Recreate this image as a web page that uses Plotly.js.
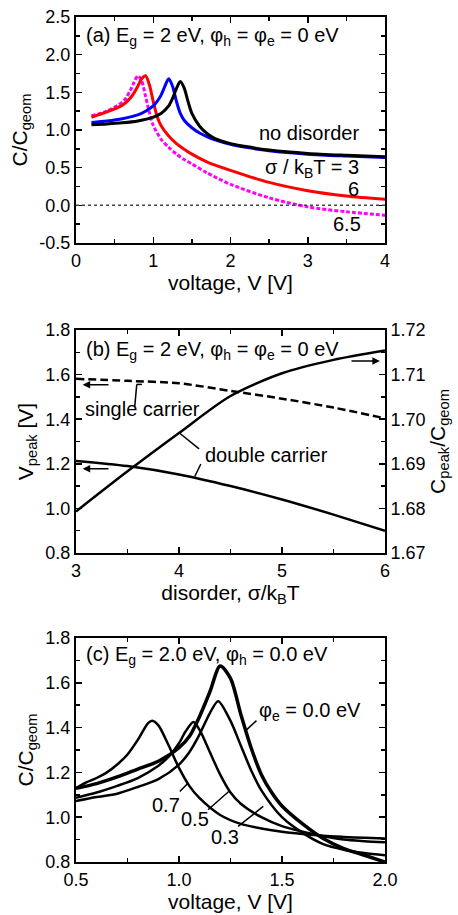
<!DOCTYPE html>
<html>
<head>
<meta charset="utf-8">
<script src="https://cdn.plot.ly/plotly-3.0.1.min.js"></script>
<style>html,body{margin:0;padding:0;background:#fff;}#chart{width:458px;height:915px;}</style>
</head>
<body>
<div id="chart"></div>
<script>
// ---------- Panel (a): C/Cgeom vs voltage ----------
const aNoDisX = [0.2, 0.4, 0.6, 0.8, 1.0, 1.1, 1.2, 1.25, 1.3, 1.35, 1.4, 1.45, 1.5, 1.6, 1.7, 1.8, 2.0, 2.2, 2.5, 3.0, 3.5, 4.0];
const aNoDisY = [1.07, 1.08, 1.095, 1.12, 1.17, 1.22, 1.32, 1.42, 1.55, 1.645, 1.56, 1.38, 1.22, 1.05, 0.95, 0.885, 0.82, 0.78, 0.735, 0.69, 0.665, 0.645];
const aS3X = [0.2, 0.4, 0.6, 0.8, 0.9, 1.0, 1.05, 1.1, 1.15, 1.2, 1.25, 1.3, 1.35, 1.4, 1.5, 1.6, 1.7, 1.8, 2.0, 2.2, 2.5, 3.0, 3.5, 4.0];
const aS3Y = [1.10, 1.12, 1.15, 1.2, 1.25, 1.32, 1.38, 1.46, 1.58, 1.68, 1.58, 1.38, 1.22, 1.13, 1.03, 0.96, 0.91, 0.87, 0.81, 0.77, 0.725, 0.68, 0.655, 0.635];
const aS6X = [0.2, 0.4, 0.6, 0.7, 0.75, 0.8, 0.85, 0.9, 0.95, 1.0, 1.05, 1.1, 1.2, 1.3, 1.4, 1.5, 1.7, 2.0, 2.5, 3.0, 3.5, 4.0];
const aS6Y = [1.17, 1.24, 1.33, 1.42, 1.49, 1.58, 1.68, 1.72, 1.60, 1.38, 1.18, 1.06, 0.92, 0.82, 0.745, 0.68, 0.575, 0.465, 0.305, 0.195, 0.125, 0.08];
const aS65X = [0.2, 0.4, 0.6, 0.65, 0.7, 0.75, 0.8, 0.85, 0.9, 0.95, 1.0, 1.1, 1.2, 1.3, 1.4, 1.5, 1.7, 2.0, 2.5, 3.0, 3.5, 4.0];
const aS65Y = [1.19, 1.25, 1.37, 1.43, 1.52, 1.63, 1.72, 1.65, 1.45, 1.23, 1.06, 0.88, 0.77, 0.68, 0.61, 0.55, 0.43, 0.28, 0.10, -0.02, -0.085, -0.13];
const aYTickVals = [-0.5, 0.0, 0.5, 1.0, 1.5, 2.0, 2.5];
const aYTickText = ["-0.5", "0.0", "0.5", "1.0", "1.5", "2.0", "2.5"];

// ---------- Panel (b): peak position / height vs disorder ----------
const bDisorder = [3.0, 3.5, 4.0, 4.5, 5.0, 5.5, 6.0];
const bVpeakDouble = [1.213, 1.190, 1.152, 1.100, 1.040, 0.972, 0.900];
const bVpeakSingle = [1.581, 1.572, 1.561, 1.527, 1.492, 1.452, 1.404];
const bCpeakDouble = [1.6793, 1.6883, 1.6969, 1.7052, 1.7103, 1.7133, 1.7154];

// ---------- Panel (c): C/Cgeom vs voltage for several phi_e ----------
const cPhi0X = [0.5, 0.6, 0.7, 0.8, 0.9, 1.0, 1.05, 1.1, 1.15, 1.2, 1.25, 1.3, 1.35, 1.4, 1.45, 1.5, 1.6, 1.7, 1.8, 1.9, 2.0];
const cPhi0Y = [1.129, 1.15, 1.18, 1.215, 1.25, 1.31, 1.36, 1.45, 1.56, 1.675, 1.62, 1.46, 1.31, 1.19, 1.11, 1.05, 0.97, 0.905, 0.86, 0.83, 0.80];
const cPhi3X = [0.5, 0.6, 0.7, 0.8, 0.9, 1.0, 1.05, 1.1, 1.15, 1.19, 1.25, 1.3, 1.35, 1.4, 1.5, 1.6, 1.7, 1.8, 1.9, 2.0];
const cPhi3Y = [1.072, 1.09, 1.105, 1.135, 1.17, 1.235, 1.29, 1.37, 1.465, 1.518, 1.43, 1.32, 1.21, 1.12, 1.00, 0.93, 0.88, 0.855, 0.84, 0.83];
const cPhi5X = [0.5, 0.6, 0.7, 0.8, 0.9, 0.95, 1.0, 1.03, 1.07, 1.1, 1.15, 1.2, 1.25, 1.3, 1.4, 1.5, 1.6, 1.7, 1.8, 1.9, 2.0];
const cPhi5Y = [1.087, 1.11, 1.14, 1.175, 1.23, 1.27, 1.33, 1.38, 1.425, 1.39, 1.29, 1.19, 1.11, 1.06, 1.00, 0.96, 0.935, 0.915, 0.90, 0.893, 0.888];
const cPhi7X = [0.5, 0.55, 0.6, 0.65, 0.7, 0.75, 0.8, 0.85, 0.87, 0.9, 0.95, 1.0, 1.05, 1.1, 1.2, 1.3, 1.4, 1.5, 1.6, 1.7, 1.8, 1.9, 2.0];
const cPhi7Y = [1.129, 1.155, 1.175, 1.20, 1.235, 1.28, 1.345, 1.42, 1.431, 1.41, 1.32, 1.22, 1.14, 1.085, 1.01, 0.97, 0.95, 0.935, 0.925, 0.917, 0.912, 0.908, 0.905];

const FONT = 'Liberation Sans, Arial, Helvetica, sans-serif';
const TXT = 20;

function line(x, y, xa, ya, color, width, dash) {
  return {x: x, y: y, xaxis: xa, yaxis: ya, type: 'scatter', mode: 'lines',
    line: {color: color, width: width, dash: dash || 'solid', shape: 'spline', smoothing: 0.8},
    hoverinfo: 'skip'};
}

const data = [
  line(aS65X, aS65Y, 'x', 'y', '#ff00ff', 3, '4px,2px'),
  line(aS6X, aS6Y, 'x', 'y', '#ff0000', 3),
  line(aS3X, aS3Y, 'x', 'y', '#0000ff', 3),
  line(aNoDisX, aNoDisY, 'x', 'y', '#000000', 3),
  line(bDisorder, bVpeakSingle, 'x2', 'y2', '#000000', 2.5, '8px,4px'),
  line(bDisorder, bVpeakDouble, 'x2', 'y2', '#000000', 2.5),
  line(bDisorder, bCpeakDouble, 'x2', 'y3', '#000000', 2.5),
  line(cPhi7X, cPhi7Y, 'x3', 'y4', '#000000', 2.5),
  line(cPhi5X, cPhi5Y, 'x3', 'y4', '#000000', 2.5),
  line(cPhi3X, cPhi3Y, 'x3', 'y4', '#000000', 2.5),
  line(cPhi0X, cPhi0Y, 'x3', 'y4', '#000000', 3.5)
];

function axis(extra) {
  return Object.assign({
    showline: true, linewidth: 2, linecolor: 'black', mirror: 'ticks',
    ticks: 'inside', ticklen: 6, tickwidth: 1.5, tickcolor: 'black',
    showgrid: false, zeroline: false, fixedrange: true,
    tickfont: {size: 18, family: FONT, color: 'black'}
  }, extra);
}
function minor(d) { return {dtick: d, ticks: 'inside', ticklen: 4, tickwidth: 1.5, tickcolor: 'black'}; }
function ttl(t, s) { return {text: t, font: {size: 21, family: FONT, color: 'black'}, standoff: s}; }

const layout = {
  width: 458, height: 915,
  margin: {l: 76, r: 73, t: 17, b: 53},
  paper_bgcolor: 'white', plot_bgcolor: 'white',
  showlegend: false,
  font: {family: FONT, size: 18, color: 'black'},
  xaxis: axis({domain: [0, 1], anchor: 'y', range: [0, 4], tick0: 0, dtick: 1, minor: minor(0.5), title: ttl('voltage, V [V]', 3)}),
  yaxis: axis({domain: [0.7325, 1], anchor: 'x', range: [-0.5, 2.5], tickmode: 'array', tickvals: aYTickVals, ticktext: aYTickText,
    minor: Object.assign(minor(0.25), {tickmode: 'linear', tick0: 0}), title: ttl('C/C<sub>geom</sub>', 6)}),
  xaxis2: axis({domain: [0, 1], anchor: 'y2', range: [3, 6], tick0: 3, dtick: 1, minor: minor(0.5), title: ttl('disorder, σ/k<sub>B</sub>T', 3)}),
  yaxis2: axis({domain: [0.3657, 0.6296], anchor: 'x2', range: [0.8, 1.8], tick0: 0.8, dtick: 0.2, tickformat: '.1f', mirror: false, minor: minor(0.1), title: ttl('V<sub>peak</sub> [V]', 6)}),
  yaxis3: axis({overlaying: 'y2', side: 'right', anchor: 'x2', range: [1.67, 1.72], tick0: 1.67, dtick: 0.01, tickformat: '.2f', mirror: false, minor: minor(0.005), title: ttl('C<sub>peak</sub>/C<sub>geom</sub>', 4)}),
  xaxis3: axis({domain: [0, 1], anchor: 'y4', range: [0.5, 2.0], tick0: 0.5, dtick: 0.5, tickformat: '.1f', minor: minor(0.25), title: ttl('voltage, V [V]', 3)}),
  yaxis4: axis({domain: [0, 0.2651], anchor: 'x3', range: [0.8, 1.8], tick0: 0.8, dtick: 0.2, tickformat: '.1f', minor: minor(0.1), title: ttl('C/C<sub>geom</sub>', 6)}),
  shapes: [
    {type: 'line', xref: 'x domain', yref: 'y', x0: 0, x1: 1, y0: 0, y1: 0, line: {color: '#444', width: 1.5, dash: 'dot'}},
    // panel (b) leader lines
    {type: 'line', xref: 'x2', yref: 'y2', x0: 3.57, y0: 1.455, x1: 3.59, y1: 1.556, line: {color: 'black', width: 1.5}},
    {type: 'line', xref: 'x2', yref: 'y2', x0: 3.59, y0: 1.556, x1: 3.64, y1: 1.556, line: {color: 'black', width: 1.5}},
    {type: 'line', xref: 'x2', yref: 'y2', x0: 4.195, y0: 1.267, x1: 4.007, y1: 1.337, line: {color: 'black', width: 1.5}},
    {type: 'line', xref: 'x2', yref: 'y2', x0: 4.212, y0: 1.199, x1: 4.153, y1: 1.143, line: {color: 'black', width: 1.5}},
    // panel (c) leader lines
    {type: 'line', xref: 'x3', yref: 'y4', x0: 1.320, y0: 1.383, x1: 1.376, y1: 1.431, line: {color: 'black', width: 1.5}},
    {type: 'line', xref: 'x3', yref: 'y4', x0: 1.004, y0: 1.115, x1: 1.044, y1: 1.152, line: {color: 'black', width: 1.5}},
    {type: 'line', xref: 'x3', yref: 'y4', x0: 1.141, y0: 1.033, x1: 1.247, y1: 1.119, line: {color: 'black', width: 1.5}},
    {type: 'line', xref: 'x3', yref: 'y4', x0: 1.287, y0: 0.959, x1: 1.409, y1: 1.048, line: {color: 'black', width: 1.5}}
  ],
  annotations: [
    {xref: 'x domain', yref: 'y domain', x: 0.025, y: 0.915, xanchor: 'left', yanchor: 'middle', showarrow: false,
      text: '(a) E<sub>g</sub> = 2 eV, φ<sub>h</sub> = φ<sub>e</sub> = 0 eV', font: {size: TXT}},
    {xref: 'x', yref: 'y', x: 3.69, y: 0.965, xanchor: 'right', yanchor: 'middle', showarrow: false, text: 'no disorder', font: {size: TXT}},
    {xref: 'x', yref: 'y', x: 3.69, y: 0.49, xanchor: 'right', yanchor: 'middle', showarrow: false, text: 'σ / k<sub>B</sub>T = 3', font: {size: TXT}},
    {xref: 'x', yref: 'y', x: 3.69, y: 0.222, xanchor: 'right', yanchor: 'middle', showarrow: false, text: '6', font: {size: TXT}},
    {xref: 'x', yref: 'y', x: 3.71, y: -0.243, xanchor: 'right', yanchor: 'middle', showarrow: false, text: '6.5', font: {size: TXT}},

    {xref: 'x2 domain', yref: 'y2 domain', x: 0.025, y: 0.91, xanchor: 'left', yanchor: 'middle', showarrow: false,
      text: '(b) E<sub>g</sub> = 2 eV, φ<sub>h</sub> = φ<sub>e</sub> = 0 eV', font: {size: TXT}},
    {xref: 'x2', yref: 'y2', x: 3.065, y: 1.446, xanchor: 'left', yanchor: 'middle', showarrow: false, text: 'single carrier', font: {size: TXT}},
    {xref: 'x2', yref: 'y2', x: 4.23, y: 1.24, xanchor: 'left', yanchor: 'middle', showarrow: false, text: 'double carrier', font: {size: TXT}},
    {xref: 'x2', yref: 'y2', axref: 'x2', ayref: 'y2', x: 3.065, y: 1.554, ax: 3.33, ay: 1.554, text: '', showarrow: true, arrowhead: 2, arrowsize: 1, arrowwidth: 1.5, arrowcolor: 'black'},
    {xref: 'x2', yref: 'y2', axref: 'x2', ayref: 'y2', x: 3.065, y: 1.178, ax: 3.33, ay: 1.178, text: '', showarrow: true, arrowhead: 2, arrowsize: 1, arrowwidth: 1.5, arrowcolor: 'black'},
    {xref: 'x2', yref: 'y2', axref: 'x2', ayref: 'y2', x: 5.95, y: 1.661, ax: 5.66, ay: 1.661, text: '', showarrow: true, arrowhead: 2, arrowsize: 1, arrowwidth: 1.5, arrowcolor: 'black'},

    {xref: 'x3 domain', yref: 'y4 domain', x: 0.025, y: 0.92, xanchor: 'left', yanchor: 'middle', showarrow: false,
      text: '(c) E<sub>g</sub> = 2.0 eV, φ<sub>h</sub> = 0.0 eV', font: {size: TXT}},
    {xref: 'x3', yref: 'y4', x: 1.38, y: 1.47, xanchor: 'left', yanchor: 'middle', showarrow: false, text: 'φ<sub>e</sub> = 0.0 eV', font: {size: TXT}},
    {xref: 'x3', yref: 'y4', x: 0.938, y: 1.055, xanchor: 'center', yanchor: 'middle', showarrow: false, text: '0.7', font: {size: TXT}},
    {xref: 'x3', yref: 'y4', x: 1.077, y: 0.993, xanchor: 'center', yanchor: 'middle', showarrow: false, text: '0.5', font: {size: TXT}},
    {xref: 'x3', yref: 'y4', x: 1.222, y: 0.911, xanchor: 'center', yanchor: 'middle', showarrow: false, text: '0.3', font: {size: TXT}}
  ]
};

Plotly.newPlot('chart', data, layout, {staticPlot: true, displayModeBar: false});
</script>
</body>
</html>
